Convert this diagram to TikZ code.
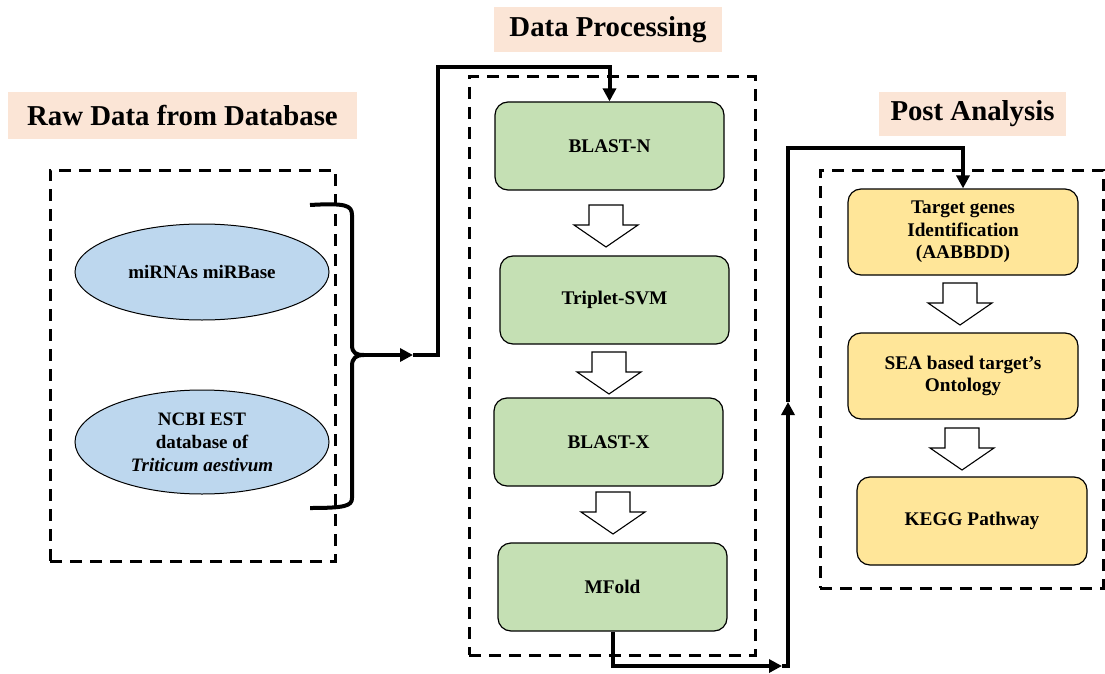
\documentclass[tikz,border=0pt]{standalone}
\usepackage{fontspec}
\setmainfont{Liberation Serif}
\usetikzlibrary{arrows.meta,shapes.geometric}
\definecolor{peach}{HTML}{FBE5D6}
\definecolor{boxgreen}{HTML}{C5E0B4}
\definecolor{boxyellow}{HTML}{FFE699}
\definecolor{boxblue}{HTML}{BDD7EE}
\tikzset{
  header/.style={fill=peach, draw=none, inner sep=0pt, font=\fontsize{28.8}{34}\selectfont\bfseries},
  dashbox/.style={draw, line width=3pt, dash pattern=on 12pt off 8pt, inner sep=0pt},
  greenbox/.style={draw, fill=boxgreen, rounded corners=13pt, line width=1.2pt, minimum width=229pt, minimum height=88pt, align=center, font=\fontsize{19.3}{22.5}\selectfont\bfseries},
  yellowbox/.style={draw, fill=boxyellow, rounded corners=13pt, line width=1.2pt, minimum width=230pt, minimum height=86pt, align=center, font=\fontsize{19.3}{22.5}\selectfont\bfseries},
  oval/.style={draw, fill=boxblue, ellipse, line width=1pt, minimum width=254pt, align=center, inner sep=0pt, font=\fontsize{19}{23}\selectfont\bfseries},
  conn/.style={line width=4pt},
  tip/.style={-{Triangle[length=13pt,width=13pt]}},
  blk/.pic={\draw[line width=1.1pt, fill=white] (-17,-21) -- (17,-21) -- (17,-1) -- (32,-1) -- (0,21) -- (-32,-1) -- (-17,-1) -- cycle;}
}
\begin{document}
\begin{tikzpicture}[x=1pt,y=-1pt]
\useasboundingbox (0,0) rectangle (1105,674);
% headers
\node[header, minimum width=349pt, minimum height=47pt] (h1) at (182.5,115.5) {Raw Data from Database};
\node[header, minimum width=228pt, minimum height=45pt] (h2) at (608,29.5) {Data Processing};
\node[header, minimum width=187pt, minimum height=44pt] (h3) at (972.5,114) {Post Analysis};
% dashed frames
\node[dashbox, minimum width=285pt, minimum height=391pt] (d1) at (192.5,365.5) {};
\node[dashbox, minimum width=286pt, minimum height=578pt] (d2) at (612,366) {};
\node[dashbox, minimum width=283pt, minimum height=418pt] (d3) at (961.5,379) {};
% ellipses
\node[oval, minimum height=96pt] (e1) at (202,272) {miRNAs miRBase};
\node[oval, minimum height=104pt] (e2) at (202,442) {NCBI EST\\database of\\\textit{Triticum aestivum}};
% green boxes
\node[greenbox] (blastn) at (609.5,146) {BLAST-N};
\node[greenbox] (svm) at (614.5,300) {Triplet-SVM};
\node[greenbox] (blastx) at (608.5,442) {BLAST-X};
\node[greenbox] (mfold) at (612.5,587) {MFold};
% yellow boxes
\node[yellowbox] (target) at (963,232) {Target genes\\Identification\\(AABBDD)};
\node[yellowbox] (sea) at (963,376) {SEA based target's\\Ontology};
\node[yellowbox, minimum height=88pt] (kegg) at (972,521) {KEGG Pathway};
% block arrows
\pic at (606,226) {blk};
\pic at (609,373) {blk};
\pic at (613,513) {blk};
\pic at (960,304) {blk};
\pic at (962,449) {blk};
% brace
\coordinate (bt) at (364,355);
\coordinate (a1) at (413,355);
\draw[line width=4pt, line join=round] (310,205) .. controls (345,203) and (352,205) .. (352,215) -- (352,345) .. controls (352,353) and (356,355) .. (bt) .. controls (356,355) and (352,358) .. (352,366) -- (352,498) .. controls (352,506) and (345,508) .. (310,508);
% connector 1
\draw[conn, tip] (bt) -- (a1);
\draw[conn, tip] (a1) -- (438,355) -- (438,67) -| (blastn.north);
% connector 2
\coordinate (c2) at (782,666);
\coordinate (c3) at (788,402);
\draw[conn, tip] (mfold.south) |- (c2);
\draw[conn, tip] (c2) -- (788,666) -- (c3);
\draw[conn, tip] (c3) -- (788,148) -| (target.north);
\end{tikzpicture}
\end{document}
